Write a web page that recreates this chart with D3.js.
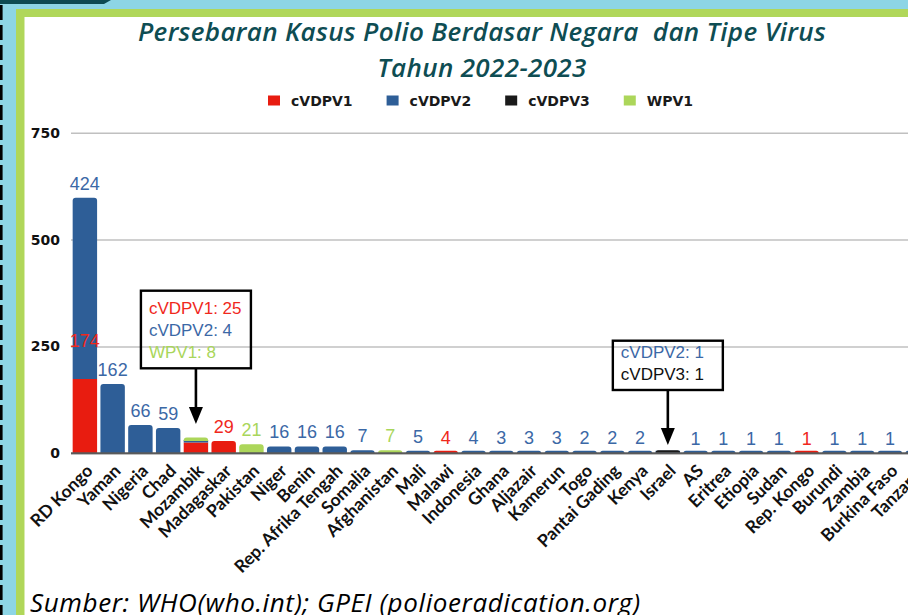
<!DOCTYPE html>
<html>
<head>
<meta charset="utf-8">
<script src="https://cdn.jsdelivr.net/npm/d3@7"></script>
<style>
  body { margin: 0; background: #fff; }
  svg { display: block; }
</style>
</head>
<body>
<svg id="chart"></svg>
<script>
// data
const countries = ['RD Kongo', 'Yaman', 'Nigeria', 'Chad', 'Mozambik', 'Madagaskar', 'Pakistan', 'Niger', 'Benin',
  'Rep. Afrika Tengah', 'Somalia', 'Afghanistan', 'Mali', 'Malawi', 'Indonesia', 'Ghana', 'Aljazair', 'Kamerun',
  'Togo', 'Pantai Gading', 'Kenya', 'Israel', 'AS', 'Eritrea', 'Etiopia', 'Sudan', 'Rep. Kongo', 'Burundi',
  'Zambia', 'Burkina Faso', 'Tanzania'];
const cvdpv1 = [174, 0, 0, 0, 25, 29, 0, 0, 0, 0, 0, 0, 0, 4, 0, 0, 0, 0, 0, 0, 0, 0, 0, 0, 0, 0, 1, 0, 0, 0, 0];
const cvdpv2 = [424, 162, 66, 59, 4, 0, 0, 16, 16, 16, 7, 0, 5, 0, 4, 3, 3, 3, 2, 2, 2, 1, 1, 1, 1, 1, 0, 1, 1, 1, 1];
const cvdpv3 = [0, 0, 0, 0, 0, 0, 0, 0, 0, 0, 0, 0, 0, 0, 0, 0, 0, 0, 0, 0, 0, 1, 0, 0, 0, 0, 0, 0, 0, 0, 0];
const wpv1 = [0, 0, 0, 0, 8, 0, 21, 0, 0, 0, 0, 7, 0, 0, 0, 0, 0, 0, 0, 0, 0, 0, 0, 0, 0, 0, 0, 0, 0, 0, 0];
const seriesNames = ['cVDPV1', 'cVDPV2', 'cVDPV3', 'WPV1'];
const yTicks = [0, 250, 500, 750];

const titleLines = ['Persebaran Kasus Polio Berdasar Negara  dan Tipe Virus', 'Tahun 2022-2023'];
const sourceText = 'Sumber: WHO(who.int); GPEI (polioeradication.org)';

const barColor = { cVDPV1: '#e81c10', cVDPV2: '#2e5e97', cVDPV3: '#1a1a1a', WPV1: '#acd65a' };
const labelColor = { cVDPV1: '#f0281c', cVDPV2: '#3b68a6', cVDPV3: '#111111', WPV1: '#a9d65b' };

const W = 908, H = 615;
const svg = d3.select('#chart').attr('width', W).attr('height', H);

// ---- frame ----
svg.append('rect').attr('width', W).attr('height', H).attr('fill', '#8dd5e5');
svg.append('path').attr('d', 'M0,0 H111 L104,4 H0 Z').attr('fill', '#0d4a52');
svg.append('line').attr('x1', 1.3).attr('x2', 1.3).attr('y1', 5).attr('y2', H)
  .attr('stroke', '#000').attr('stroke-width', 2.6).attr('stroke-dasharray', '15,5');
svg.append('rect').attr('x', 16).attr('y', 9).attr('width', W - 16).attr('height', H - 9).attr('fill', '#b0d75a');
svg.append('rect').attr('x', 24.5).attr('y', 17).attr('width', W - 24.5).attr('height', H - 17).attr('fill', '#fff');

// ---- title ----
const title = svg.append('text')
  .attr('text-anchor', 'middle')
  .attr('font-family', 'Open Sans, sans-serif')
  .attr('font-style', 'italic')
  .attr('font-weight', 600)
  .attr('font-size', 26)
  .attr('letter-spacing', 0.35)
  .attr('fill', '#0e4d53');
titleLines.forEach((t, i) => {
  title.append('tspan').attr('x', 482).attr('y', 41 + i * 36).attr('xml:space', 'preserve').text(t);
});

// ---- scales ----
const x = d3.scaleBand()
  .domain(countries)
  .range([71, 71 + countries.length * 27.76])
  .paddingInner(0.12)
  .paddingOuter(0.06);

const y = d3.scaleLinear().domain([0, 750]).range([453.3, 132.7]);

// ---- grid + y axis ----
const yAxis = d3.axisLeft(y).tickValues(yTicks).tickSize(-(W - 71)).tickPadding(11);
const gy = svg.append('g').attr('transform', 'translate(71,0)').call(yAxis);
gy.select('.domain').remove();
gy.selectAll('.tick line').attr('stroke', '#c0c0c0').attr('stroke-width', 1.4);
gy.selectAll('.tick text')
  .attr('font-family', 'DejaVu Sans, sans-serif')
  .attr('font-weight', 700)
  .attr('font-size', 14)
  .attr('fill', '#111');

// ---- stacked bars ----
const rows = countries.map((c, i) => ({
  country: c, cVDPV1: cvdpv1[i], cVDPV2: cvdpv2[i], cVDPV3: cvdpv3[i], WPV1: wpv1[i]
}));
const stacked = d3.stack().keys(seriesNames)(rows);
const topKey = rows.map(r => seriesNames.filter(k => r[k] > 0).pop());

function roundTop(x0, y0, w, h, r) {
  r = Math.min(r, h, w / 2);
  return `M${x0},${y0 + h}V${y0 + r}Q${x0},${y0} ${x0 + r},${y0}H${x0 + w - r}Q${x0 + w},${y0} ${x0 + w},${y0 + r}V${y0 + h}Z`;
}

const bars = svg.append('g');
stacked.forEach(layer => {
  bars.append('g')
    .selectAll('path')
    .data(layer.filter(d => d[1] - d[0] > 0))
    .join('path')
    .attr('d', d => {
      const x0 = x(d.data.country), w = x.bandwidth();
      // tiny bars keep a thin visible sliver above the axis line
      const h = Math.max(2.6, y(d[0]) - y(d[1]));
      const r = topKey[countries.indexOf(d.data.country)] === layer.key ? 3 : 0;
      return roundTop(x0, y(d[0]) - h, w, h, r);
    })
    .attr('fill', barColor[layer.key]);
});

// baseline
svg.append('line')
  .attr('x1', 71).attr('x2', W)
  .attr('y1', y(0)).attr('y2', y(0))
  .attr('stroke', '#5a5a5a').attr('stroke-width', 2);

// ---- value labels ----
const callouts = [
  { country: 'Mozambik', boxTop: 290.7, boxH: 77.6, firstLine: 23.3 },
  { country: 'Israel', boxTop: 340.7, boxH: 49.3, firstLine: 17.3 }
];
const calloutCountries = callouts.map(c => c.country);
const labelShift = { 'RD Kongo|cVDPV1': -24 };

const labels = [];
stacked.forEach(layer => {
  layer.forEach(d => {
    const v = d[1] - d[0];
    if (v > 0 && !calloutCountries.includes(d.data.country)) {
      labels.push({ country: d.data.country, key: layer.key, value: v, top: d[1] });
    }
  });
});

svg.append('g')
  .selectAll('text')
  .data(labels)
  .join('text')
  .attr('x', d => x(d.country) + x.bandwidth() / 2)
  .attr('y', d => y(d.top) - 8 + (labelShift[d.country + '|' + d.key] || 0))
  .attr('text-anchor', 'middle')
  .attr('font-family', 'Liberation Sans, Arial, sans-serif')
  .attr('font-size', 18)
  .attr('fill', d => labelColor[d.key])
  .text(d => d.value);

// ---- callouts ----
const arrowTip = { Mozambik: 424, Israel: 445 };
callouts.forEach(c => {
  const i = countries.indexOf(c.country);
  const cx = x(c.country) + x.bandwidth() / 2;
  const g = svg.append('g');
  const lines = seriesNames.filter(k => rows[i][k] > 0);
  g.append('rect')
    .attr('x', cx - 55).attr('y', c.boxTop)
    .attr('width', 110).attr('height', c.boxH)
    .attr('fill', 'none').attr('stroke', '#000').attr('stroke-width', 2.4);
  g.selectAll('text')
    .data(lines)
    .join('text')
    .attr('x', cx - 47)
    .attr('y', (k, j) => c.boxTop + c.firstLine + j * 22)
    .attr('font-family', 'Liberation Sans, Arial, sans-serif')
    .attr('font-size', 17)
    .attr('fill', k => labelColor[k])
    .text(k => `${k}: ${rows[i][k]}`);
  const tip = arrowTip[c.country];
  g.append('line')
    .attr('x1', cx).attr('x2', cx)
    .attr('y1', c.boxTop + c.boxH).attr('y2', tip - 12)
    .attr('stroke', '#000').attr('stroke-width', 2.6);
  g.append('path')
    .attr('d', `M${cx - 7},${tip - 17} L${cx + 7},${tip - 17} L${cx},${tip} Z`)
    .attr('fill', '#000');
});

// ---- x labels ----
svg.append('g')
  .selectAll('text')
  .data(countries)
  .join('text')
  .attr('transform', d => `translate(${x(d) + x.bandwidth() / 2 + 9},472) rotate(-45)`)
  .attr('text-anchor', 'end')
  .attr('font-family', 'Lato, sans-serif')
  .attr('font-weight', 700)
  .attr('font-size', 17.5)
  .attr('fill', '#111')
  .text(d => d);

// ---- legend ----
const legend = svg.append('g').attr('transform', 'translate(0,100)');
let lx = 268;
seriesNames.forEach(k => {
  legend.append('rect').attr('x', lx).attr('y', -4.5).attr('width', 12).attr('height', 10).attr('fill', barColor[k]);
  const t = legend.append('text')
    .attr('x', lx + 23).attr('y', 5.5)
    .attr('font-family', 'DejaVu Sans, sans-serif')
    .attr('font-weight', 700)
    .attr('font-size', 14)
    .attr('fill', '#1a1a1a')
    .text(k);
  lx += 23 + t.node().getComputedTextLength() + 34;
});

// ---- source ----
svg.append('text')
  .attr('x', 30).attr('y', 612)
  .attr('font-family', 'Open Sans, sans-serif')
  .attr('font-style', 'italic')
  .attr('font-weight', 500)
  .attr('font-size', 26)
  .attr('letter-spacing', 0.6)
  .attr('fill', '#000')
  .text(sourceText);
</script>
</body>
</html>
